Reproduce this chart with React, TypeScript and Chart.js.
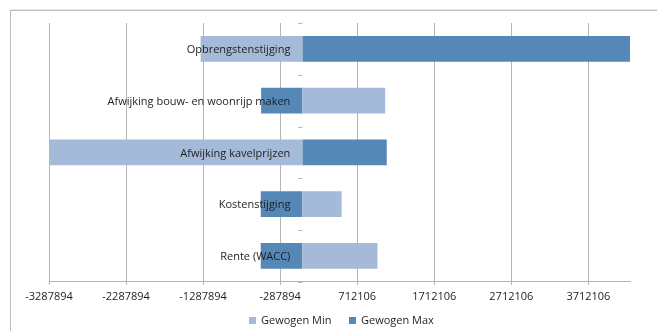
import React, { useEffect, useRef } from "react";
import { Chart, registerables } from "chart.js";

Chart.register(...registerables);

const categories = [
  "Opbrengstenstijging",
  "Afwijking bouw- en woonrijp maken",
  "Afwijking kavelprijzen",
  "Kostenstijging",
  "Rente (WACC)",
];
const seriesNames = ["Gewogen Min", "Gewogen Max"];
const gewogenMin = [-1320000, 1075000, -3287894, 510000, 975000];
const gewogenMax = [4252000, -535000, 1095000, -540000, -540000];
const tickValues = [
  -3287894, -2287894, -1287894, -287894, 712106, 1712106, 2712106, 3712106,
];
const axisMin = -3287894;
const axisMax = 4252000;

const FONT = "'Open Sans', 'DejaVu Sans', sans-serif";
const LIGHT = "#A5B9D9";
const DARK = "#5587B7";
const GRID = "#b4b4b4";
const TEXT = "#1e1e1e";

const categoryLabelPlugin = {
  id: "categoryLabels",
  afterDatasetsDraw(chart: any) {
    const { ctx, scales, chartArea } = chart;
    const x = scales.x;
    const y = scales.y;
    const x0 = x.getPixelForValue(0);
    ctx.save();
    ctx.font = `11px ${FONT}`;
    ctx.fillStyle = TEXT;
    ctx.textAlign = "right";
    ctx.textBaseline = "middle";
    categories.forEach((c, i) => {
      ctx.fillText(c, x0 - 12, y.getPixelForValue(i) + 1);
    });
    ctx.strokeStyle = GRID;
    ctx.lineWidth = 1;
    for (let i = 0; i <= categories.length; i++) {
      const py = Math.round(y.getPixelForValue(i - 0.5)) + 0.5;
      ctx.beginPath();
      ctx.moveTo(x0 - 4, py);
      ctx.lineTo(x0, py);
      ctx.stroke();
    }
    // legend
    const colors = chart.data.datasets.map((d: any) => d.backgroundColor);
    ctx.font = `11px ${FONT}`;
    ctx.textAlign = "left";
    const box = 7;
    const gapBoxText = 5;
    const gapItems = 17;
    const widths = seriesNames.map((n) => box + gapBoxText + ctx.measureText(n).width);
    const total = widths.reduce((a, b) => a + b, 0) + gapItems * (seriesNames.length - 1);
    let lx = (chartArea.left + chartArea.right) / 2 - total / 2 + 2;
    const ly = 320;
    seriesNames.forEach((n, i) => {
      ctx.fillStyle = colors[i];
      ctx.fillRect(Math.round(lx), ly - 3, box, box);
      ctx.fillStyle = TEXT;
      ctx.fillText(n, Math.round(lx) + box + gapBoxText, ly + 1);
      lx += widths[i] + gapItems;
    });
    ctx.restore();
  },
};

export default function App() {
  const ref = useRef<HTMLCanvasElement | null>(null);
  useEffect(() => {
    if (!ref.current) return;
    const chart = new Chart(ref.current, {
      type: "bar",
      data: {
        labels: categories,
        datasets: [
          {
            label: seriesNames[0],
            data: gewogenMin,
            backgroundColor: LIGHT,
            borderWidth: 0,
            categoryPercentage: 1,
            barPercentage: 0.5,
          },
          {
            label: seriesNames[1],
            data: gewogenMax,
            backgroundColor: DARK,
            borderWidth: 0,
            categoryPercentage: 1,
            barPercentage: 0.5,
          },
        ],
      },
      options: {
        indexAxis: "y",
        animation: false,
        responsive: false,
        maintainAspectRatio: false,
        layout: { padding: { left: 49, right: 27, top: 23, bottom: 23 } },
        scales: {
          x: {
            type: "linear",
            stacked: true,
            min: axisMin,
            max: axisMax,
            afterBuildTicks: (scale: any) => {
              scale.ticks = tickValues.map((v) => ({ value: v }));
            },
            grid: {
              color: GRID,
              lineWidth: 1,
              tickLength: 3,
              drawTicks: true,
            },
            border: { color: GRID, width: 1 },
            ticks: {
              font: { family: FONT, size: 11 },
              color: TEXT,
              padding: 5,
              maxRotation: 0,
              autoSkip: false,
              callback: (v: any) => String(v),
            },
          },
          y: {
            type: "category",
            stacked: true,
            display: false,
          },
        },
        plugins: {
          legend: { display: false },
          tooltip: { enabled: false },
        },
      },
      plugins: [categoryLabelPlugin],
    });
    return () => chart.destroy();
  }, []);

  return (
    <div
      style={{
        position: "fixed",
        left: 0,
        top: 0,
        width: 657,
        height: 331,
        background: "#fff",
        overflow: "hidden",
      }}
    >
      <div
        style={{
          position: "absolute",
          left: 10,
          top: 10,
          width: 700,
          height: 400,
          borderLeft: "1px solid #bdbdbd",
          borderTop: "1px solid #bdbdbd",
          boxShadow: "0 -1px 0 #e6e6e6",
        }}
      />
      <canvas
        ref={ref}
        width={657}
        height={331}
        style={{ position: "absolute", left: 0, top: 0, width: 657, height: 331 }}
      />
    </div>
  );
}
